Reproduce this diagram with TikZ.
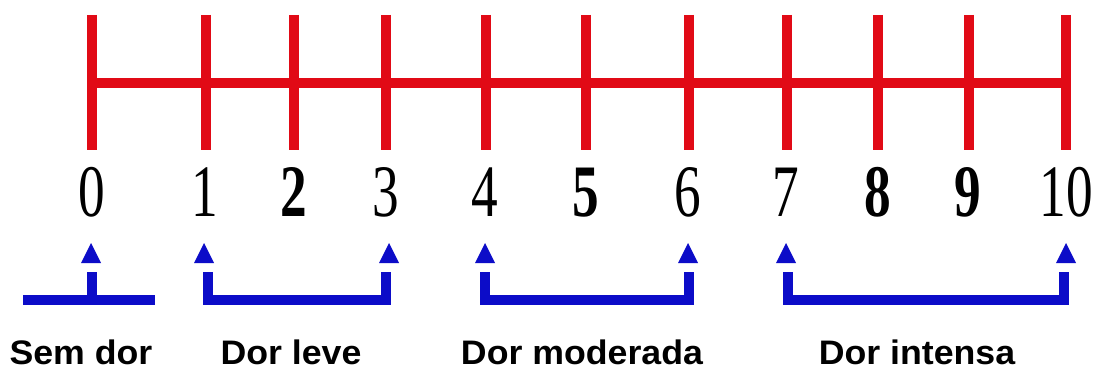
\documentclass[tikz,border=0pt]{standalone}
\usepackage{fontspec}
\setmainfont{Liberation Serif}
\newfontfamily\labfont{Liberation Sans}
\definecolor{scalered}{RGB}{225,10,22}
\definecolor{scaleblue}{RGB}{12,12,200}
\tikzset{
  redline/.style={draw=scalered, line width=10pt, line cap=butt},
  blueline/.style={draw=scaleblue, line width=10pt, line cap=butt, line join=miter},
  digit/.style={anchor=base, inner sep=0pt, font=\fontsize{74}{74}\selectfont},
  catlabel/.style={anchor=base, inner sep=0pt, font=\labfont\bfseries\fontsize{34}{34}\selectfont},
  tip/.style={fill=scaleblue}
}
\newcommand{\narrow}[1]{\scalebox{0.72}[1]{#1}}
\newcommand{\wide}[1]{\scalebox{1.05}[1]{#1}}
\begin{document}
\begin{tikzpicture}[x=1pt,y=-1pt]
\useasboundingbox (0,0) rectangle (1097,369);
\fill[white] (0,0) rectangle (1097,369);
% ticks
\foreach \i/\x in {0/92,1/206,2/294,3/386,4/486,5/586,6/689,7/787,8/878,9/969,10/1066}{
  \coordinate (top\i) at (\x,15);
  \coordinate (bot\i) at (\x,150);
  \draw[redline] (top\i) -- (bot\i);
}
\coordinate (axL) at (92,83);
\coordinate (axR) at (1066,83);
\draw[redline] (axL) -- (axR);
% digits
\node[digit] (n0) at (92,216) {\narrow{0}};
\node[digit] (n1) at (205,216) {\narrow{1}};
\node[digit] (n2) at (294,216) {\narrow{\bfseries 2}};
\node[digit] (n3) at (386,216) {\narrow{3}};
\node[digit] (n4) at (485,216) {\narrow{4}};
\node[digit] (n5) at (586,216) {\narrow{\bfseries 5}};
\node[digit] (n6) at (688,216) {\narrow{6}};
\node[digit] (n7) at (786,216) {\narrow{7}};
\node[digit] (n8) at (878,216) {\narrow{\bfseries 8}};
\node[digit] (n9) at (968,216) {\narrow{\bfseries 9}};
\node[digit] (n10) at (1066,216) {\narrow{10}};
% blue arrow heads
\foreach \x in {91,204,389,485,688,786,1066}{
  \fill[tip] (\x-10,263) -- (\x+10,263) -- (\x,243) -- cycle;
}
% sem dor
\coordinate (s0) at (92,272);
\coordinate (s0b) at (92,300);
\coordinate (sL) at (23,300);
\coordinate (sR) at (155,300);
\draw[blueline] (sL) -- (sR);
\draw[blueline] (s0) -- (s0b);
% brackets
\coordinate (a1) at (208,272); \coordinate (a3) at (386,272);
\coordinate (a4) at (485,272); \coordinate (a6) at (689,272);
\coordinate (a7) at (788,272); \coordinate (a10) at (1064,272);
\draw[blueline] (a1) -- (a1 |- 0,300) -- (a3 |- 0,300) -- (a3);
\draw[blueline] (a4) -- (a4 |- 0,300) -- (a6 |- 0,300) -- (a6);
\draw[blueline] (a7) -- (a7 |- 0,300) -- (a10 |- 0,300) -- (a10);
% labels
\node[catlabel] (l0) at (81,364) {\wide{Sem dor}};
\node[catlabel] (l1) at (291,364) {\wide{Dor leve}};
\node[catlabel] (l2) at (582,364) {\wide{Dor moderada}};
\node[catlabel] (l3) at (917,364) {\wide{Dor intensa}};
\end{tikzpicture}
\end{document}
